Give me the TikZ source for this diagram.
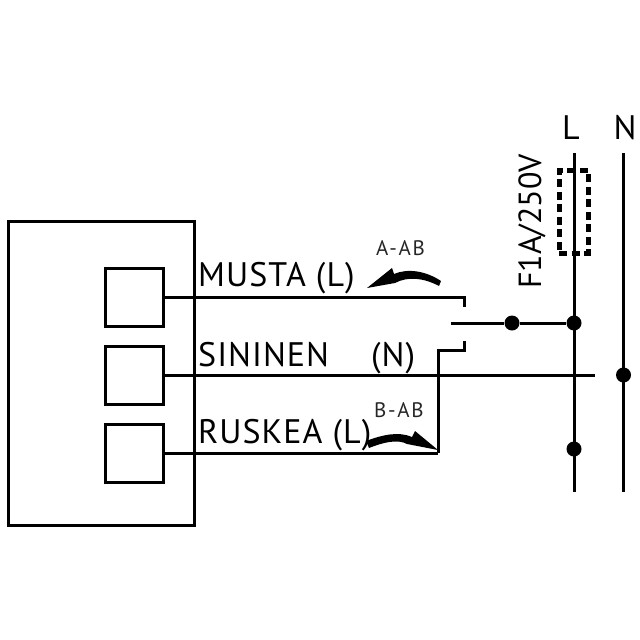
\documentclass[tikz,border=0pt]{standalone}
\usepackage{fontspec}
\setmainfont{PT Sans}
\newfontfamily\dinfont[LetterSpace=3]{PT Sans}
\newfontfamily\dinsmall[LetterSpace=8]{PT Sans}
\tikzset{
  wire/.style={line width=3pt,line cap=butt,line join=miter},
  termbox/.style={draw,line width=3pt,outer sep=0pt,minimum width=58pt,minimum height=58pt,inner sep=0pt,anchor=north west},
  dot/.style={circle,fill=black,minimum size=15pt,inner sep=0pt},
  biglabel/.style={inner sep=0pt,font=\dinfont\fontsize{34}{34}\selectfont},
  smalllabel/.style={inner sep=0pt,font=\dinsmall\fontsize{21}{21}\selectfont,text=black!85},
}
\begin{document}
\begin{tikzpicture}[x=1pt,y=-1pt]
\useasboundingbox (0,0) rectangle (640,640);
\node[draw,line width=3pt,outer sep=0pt,minimum width=186pt,minimum height=304pt,inner sep=0pt,anchor=north west] (outer) at (8,221) {};
\node[termbox] (t1) at (105,268) {};
\node[termbox] (t2) at (105,346) {};
\node[termbox] (t3) at (105,424) {};
% coordinates
\coordinate (a1) at (464,297);
\coordinate (a2) at (464,307);
\coordinate (c1) at (451,323);
\coordinate (b1) at (464,341);
\coordinate (b2) at (464,350);
\coordinate (b3) at (438,350);
\coordinate (b4) at (438,453);
\coordinate (nEnd) at (595,375);
\coordinate (Ltop) at (574,153);
\coordinate (Lbot) at (574,492);
\coordinate (Ntop) at (623.5,153);
\coordinate (Nbot) at (623.5,492);
\node[dot] (d1) at (512,323) {};
\node[dot] (d2) at (574,323) {};
\node[dot] (d3) at (623.5,375) {};
\node[dot] (d4) at (574,449) {};
% wires
\draw[wire] (t1.east |- a1) -- (a1) -- (a2);
\draw[wire] (c1) -- (d1) -- (d2);
\draw[wire] (b1) -- (b2) -- (b3) -- (b4);
\draw[wire] (t2.east |- nEnd) -- (nEnd);
\draw[wire] (t3.east |- b4) -- (b4);
\draw[wire] (Ltop) -- (Lbot);
\draw[wire] (Ntop) -- (Nbot);
% fuse
\node[draw,line width=5pt,dash pattern=on 8pt off 4.5pt,minimum width=29pt,minimum height=83pt,inner sep=0pt] (fuse) at (573.5,211.5) {};
% labels
\node[biglabel,anchor=base west] (musta) at (198,286.5) {MUSTA (L)};
\node[biglabel,anchor=base west] (sininen) at (198,366) {SININEN};
\node[biglabel,anchor=base west] (nlab) at (371,366) {(N)};
\node[biglabel,anchor=base west] (ruskea) at (198,443) {RUSKEA (L)};
\node[smalllabel,anchor=base west] (aab) at (376,255) {A-AB};
\node[smalllabel,anchor=base west] (bab) at (374,417) {B-AB};
\node[biglabel,anchor=base] (L) at (571,139) {L};
\node[biglabel,anchor=base] (N) at (625,139) {N};
\node[inner sep=0pt,font=\fontsize{32}{32}\selectfont,anchor=base west,rotate=90] (rating) at (541,289) {F1A/250V};
% switch arrows
\fill (367,288) -- (392,268) -- (394,274) .. controls (408,268) and (426,271) .. (441,281) -- (439,286) .. controls (424,278) and (408,276) .. (395,283) -- cycle;
\fill (438,450) -- (415,431) -- (412,437) .. controls (398,431) and (382,435) .. (366,441) -- (369,448) .. controls (384,442) and (398,439) .. (407,444) -- cycle;
\end{tikzpicture}
\end{document}
